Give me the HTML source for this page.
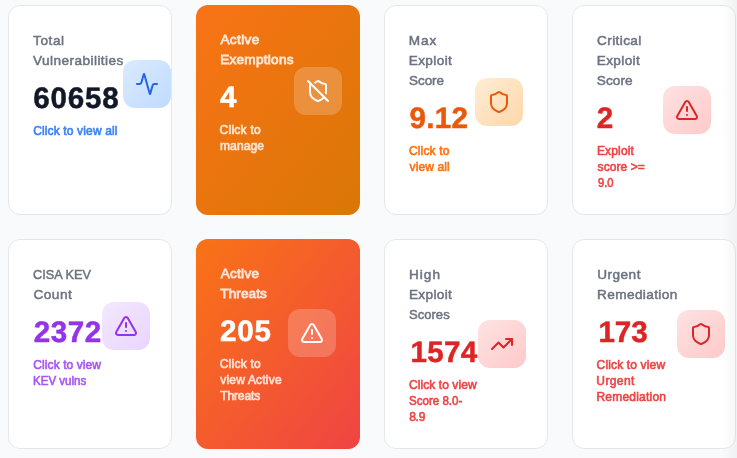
<!DOCTYPE html>
<html lang="en">
<head>
<meta charset="utf-8">
<title>Vulnerability Dashboard</title>
<style>
*{box-sizing:border-box;margin:0;padding:0}
html,body{width:737px;height:458px;overflow:hidden;background:#f9fafb}
body{position:relative;font-family:"Liberation Sans",sans-serif}
.card{position:absolute;width:164px;height:210px;border-radius:12px;background:#fff;border:1px solid #e5e7eb}
.card.g1{border:0;background:linear-gradient(to bottom right,#f97316,#d97706)}
.card.g2{border:0;background:linear-gradient(to bottom right,#f97316,#ef4444)}
.c1,.c5{left:8px}.c2,.c6{left:196px}.c3,.c7{left:384px}.c4,.c8{left:572px}
.c1,.c2,.c3,.c4{top:5px}.c5,.c6,.c7,.c8{top:239px}
.txt{position:absolute;left:24px;top:24px;white-space:nowrap}
.txt span{display:block}
.lbl{font-size:13.6px;line-height:20px;font-weight:400;color:#6b7280;-webkit-text-stroke:0.5px currentColor;position:relative;top:1px}
.num{font-size:29.6px;line-height:36px;font-weight:700;margin-top:8px;position:relative;top:3px;-webkit-text-stroke:0.5px currentColor;text-rendering:geometricPrecision}
.sub{font-size:12px;line-height:16px;font-weight:400;margin-top:8px;-webkit-text-stroke:0.6px currentColor;position:relative;top:1px}
.g1 .lbl{color:#fde8d6;-webkit-text-stroke-width:0.8px}
.g2 .lbl{color:#fde4d8;-webkit-text-stroke-width:0.8px}
.g1 .num,.g2 .num{color:#fff}
.g1 .sub{color:#fce4d0;-webkit-text-stroke-width:0.7px}
.g2 .sub{color:#fde0d4;-webkit-text-stroke-width:0.7px}
.ico{position:absolute;width:48px;height:48px;border-radius:12px;display:flex;align-items:center;justify-content:center}
.ico svg{width:24px;height:24px;fill:none;stroke-width:2;stroke-linecap:round;stroke-linejoin:round}
.g1 .ico,.g2 .ico{background:rgba(255,255,255,.2)}
.g1 .ico svg,.g2 .ico svg{stroke:#fff}
.fade{position:absolute;right:0;top:0;width:16px;height:458px;background:linear-gradient(to left,rgba(30,41,59,.04),rgba(30,41,59,0));pointer-events:none}
</style>
</head>
<body>

<div class="card c1">
  <div class="txt">
    <p class="lbl"><span style="letter-spacing:0.55px;margin-left:0.10px">Total</span><span style="letter-spacing:0.45px;margin-left:-0.05px">Vulnerabilities</span></p>
    <p class="num" style="color:#111827"><span style="letter-spacing:0.79px;margin-left:0.35px">60658</span></p>
    <p class="sub" style="color:#3b82f6"><span style="letter-spacing:0.14px;margin-left:0.20px">Click to view all</span></p>
  </div>
  <div class="ico" style="left:114px;top:54px;background:linear-gradient(to bottom right,#dbeafe,#bfdbfe)">
    <svg viewBox="0 0 24 24" style="stroke:#2563eb"><path d="M22 12h-2.480a2 2 0 0 0-1.930 1.460l-2.350 8.360a.25.25 0 0 1-.480 0L9.240 2.180a.25.25 0 0 0-.480 0l-2.350 8.360A2 2 0 0 1 4.490 12H2"/></svg>
  </div>
</div>

<div class="card g1 c2">
  <div class="txt">
    <p class="lbl"><span style="letter-spacing:0.38px;margin-left:0.41px">Active</span><span style="letter-spacing:0.26px;margin-left:0.15px">Exemptions</span></p>
    <p class="num"><span style="margin-left:-0.07px">4</span></p>
    <p class="sub"><span style="letter-spacing:0.27px;margin-left:-0.48px">Click to</span><span style="letter-spacing:0.15px;margin-left:-0.10px">manage</span></p>
  </div>
  <div class="ico" style="left:98px;top:62px">
    <svg viewBox="0 0 24 24"><path d="m2 2 20 20"/><path d="M5 5a1 1 0 0 0-1 1v7c0 5 3.500 7.500 7.670 8.940a1 1 0 0 0 .670.010c2.350-.820 4.480-1.970 5.900-3.710"/><path d="M9.309 3.652A12.252 12.252 0 0 0 11.240 2.280a1.170 1.170 0 0 1 1.520 0C14.510 3.810 17 5 19 5a1 1 0 0 1 1 1v7a9.784 9.784 0 0 1-.080 1.264"/></svg>
  </div>
</div>

<div class="card c3">
  <div class="txt">
    <p class="lbl"><span style="letter-spacing:1.00px;margin-left:-0.32px">Max</span><span style="letter-spacing:0.40px;margin-left:-0.32px">Exploit</span><span style="margin-left:-0.20px;transform:scaleX(0.9869);transform-origin:0 0">Score</span></p>
    <p class="num" style="color:#ea580c"><span style="letter-spacing:0.30px;margin-left:0.59px">9.12</span></p>
    <p class="sub" style="color:#f97316"><span style="letter-spacing:0.16px;margin-left:-0.05px">Click to</span><span style="letter-spacing:0.11px;margin-left:0.62px">view all</span></p>
  </div>
  <div class="ico" style="left:90px;top:72px;background:linear-gradient(to bottom right,#ffedd5,#fed7aa)">
    <svg viewBox="0 0 24 24" style="stroke:#ea580c"><path d="M20 13c0 5-3.500 7.500-7.660 8.950a1 1 0 0 1-.670-.010C7.500 20.500 4 18 4 13V6a1 1 0 0 1 1-1c2 0 4.500-1.200 6.240-2.720a1.170 1.170 0 0 1 1.520 0C14.510 3.810 17 5 19 5a1 1 0 0 1 1 1z"/></svg>
  </div>
</div>

<div class="card c4">
  <div class="txt">
    <p class="lbl"><span style="letter-spacing:0.39px;margin-left:0.04px">Critical</span><span style="letter-spacing:0.38px;margin-left:-0.30px">Exploit</span><span style="letter-spacing:0.06px;margin-left:-0.16px">Score</span></p>
    <p class="num" style="color:#dc2626"><span style="margin-left:-0.18px">2</span></p>
    <p class="sub" style="color:#ef4444"><span style="letter-spacing:0.17px;margin-left:-0.10px">Exploit</span><span style="letter-spacing:0.07px;margin-left:0.62px">score &gt;=</span><span style="margin-left:0.64px;transform:scaleX(0.9333);transform-origin:0 0">9.0</span></p>
  </div>
  <div class="ico" style="left:90px;top:80px;background:linear-gradient(to bottom right,#fee2e2,#fecaca)">
    <svg viewBox="0 0 24 24" style="stroke:#dc2626"><path d="m21.730 18-8-14a2 2 0 0 0-3.480 0l-8 14A2 2 0 0 0 4 21h16a2 2 0 0 0 1.730-3"/><path d="M12 9v4"/><path d="M12 17h.01"/></svg>
  </div>
</div>

<div class="card c5">
  <div class="txt">
    <p class="lbl"><span style="margin-left:0.37px;transform:scaleX(0.9344);transform-origin:0 0">CISA KEV</span><span style="letter-spacing:0.55px;margin-left:0.38px">Count</span></p>
    <p class="num" style="color:#9333ea"><span style="letter-spacing:0.59px;margin-left:0.63px">2372</span></p>
    <p class="sub" style="color:#a855f7"><span style="letter-spacing:0.08px;margin-left:0.35px">Click to view</span><span style="margin-left:-0.02px;transform:scaleX(0.9624);transform-origin:0 0">KEV vulns</span></p>
  </div>
  <div class="ico" style="left:93px;top:62px;background:linear-gradient(to bottom right,#f3e8ff,#e9d5ff)">
    <svg viewBox="0 0 24 24" style="stroke:#9333ea"><path d="m21.730 18-8-14a2 2 0 0 0-3.480 0l-8 14A2 2 0 0 0 4 21h16a2 2 0 0 0 1.730-3"/><path d="M12 9v4"/><path d="M12 17h.01"/></svg>
  </div>
</div>

<div class="card g2 c6">
  <div class="txt">
    <p class="lbl"><span style="letter-spacing:0.28px;margin-left:0.64px">Active</span><span style="letter-spacing:0.06px;margin-left:0.34px">Threats</span></p>
    <p class="num"><span style="letter-spacing:0.85px;margin-left:-0.01px">205</span></p>
    <p class="sub"><span style="letter-spacing:0.24px;margin-left:-0.31px">Click to</span><span style="letter-spacing:0.19px;margin-left:0.30px">view Active</span><span style="letter-spacing:-0.09px;margin-left:0.15px">Threats</span></p>
  </div>
  <div class="ico" style="left:92px;top:70px">
    <svg viewBox="0 0 24 24"><path d="m21.730 18-8-14a2 2 0 0 0-3.480 0l-8 14A2 2 0 0 0 4 21h16a2 2 0 0 0 1.730-3"/><path d="M12 9v4"/><path d="M12 17h.01"/></svg>
  </div>
</div>

<div class="card c7">
  <div class="txt">
    <p class="lbl"><span style="letter-spacing:1.03px;margin-left:-0.10px">High</span><span style="letter-spacing:0.36px;margin-left:-0.10px">Exploit</span><span style="margin-left:0.47px;transform:scaleX(0.9612);transform-origin:0 0">Scores</span></p>
    <p class="num" style="color:#dc2626"><span style="letter-spacing:0.30px;margin-left:1.39px">1574</span></p>
    <p class="sub" style="color:#ef4444"><span style="letter-spacing:0.08px;margin-left:-0.07px">Click to view</span><span style="margin-left:-0.10px;transform:scaleX(0.9632);transform-origin:0 0">Score 8.0-</span><span style="letter-spacing:-0.20px;margin-left:0.15px">8.9</span></p>
  </div>
  <div class="ico" style="left:93px;top:80px;background:linear-gradient(to bottom right,#fee2e2,#fecaca)">
    <svg viewBox="0 0 24 24" style="stroke:#dc2626"><polyline points="22 7 13.5 15.5 8.500 10.500 2 17"/><polyline points="16 7 22 7 22 13"/></svg>
  </div>
</div>

<div class="card c8">
  <div class="txt">
    <p class="lbl"><span style="letter-spacing:0.49px;margin-left:0.16px">Urgent</span><span style="letter-spacing:0.38px;margin-left:0.12px">Remediation</span></p>
    <p class="num" style="color:#dc2626"><span style="letter-spacing:0.02px;margin-left:1.39px">173</span></p>
    <p class="sub" style="color:#ef4444"><span style="letter-spacing:0.15px;margin-left:-0.42px">Click to view</span><span style="letter-spacing:0.38px;margin-left:-0.65px">Urgent</span><span style="letter-spacing:0.23px;margin-left:-0.64px">Remediation</span></p>
  </div>
  <div class="ico" style="left:104px;top:70px;background:linear-gradient(to bottom right,#fee2e2,#fecaca)">
    <svg viewBox="0 0 24 24" style="stroke:#dc2626"><path d="M20 13c0 5-3.500 7.500-7.660 8.950a1 1 0 0 1-.670-.010C7.500 20.500 4 18 4 13V6a1 1 0 0 1 1-1c2 0 4.500-1.200 6.240-2.720a1.170 1.170 0 0 1 1.520 0C14.510 3.810 17 5 19 5a1 1 0 0 1 1 1z"/></svg>
  </div>
</div>

<div class="fade"></div>

</body>
</html>
